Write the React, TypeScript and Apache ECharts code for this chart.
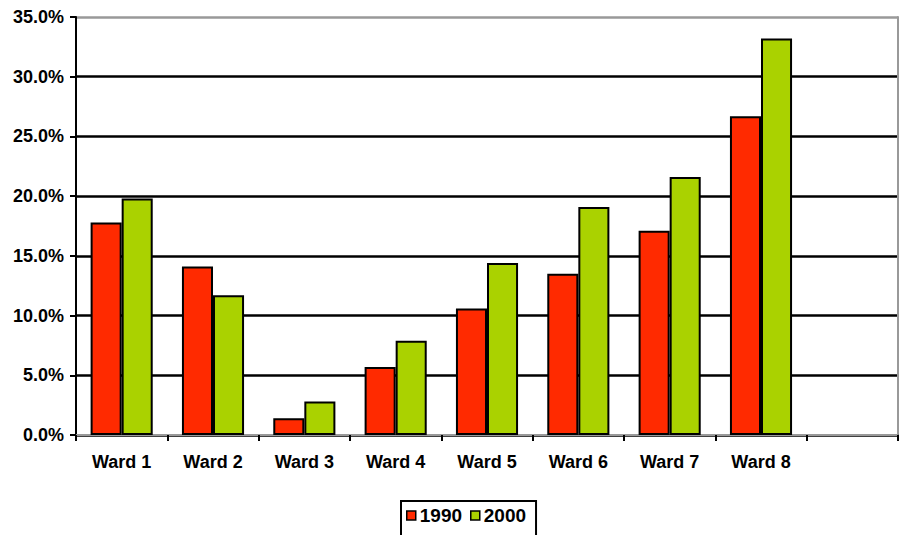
import React, { useEffect, useRef } from "react";
import * as echarts from "echarts";

const categories = ["Ward 1", "Ward 2", "Ward 3", "Ward 4", "Ward 5", "Ward 6", "Ward 7", "Ward 8", ""];
const values1990 = [17.8, 14.1, 1.4, 5.7, 10.6, 13.5, 17.1, 26.7];
const values2000 = [19.8, 11.7, 2.8, 7.9, 14.4, 19.1, 21.6, 33.2];
const seriesNames = ["1990", "2000"];

const FONT = "'Liberation Sans', Arial, sans-serif";

export default function App() {
  const ref = useRef<HTMLDivElement>(null);
  useEffect(() => {
    if (!ref.current) return;
    const chart = echarts.init(ref.current, null, { renderer: "svg" });
    chart.setOption({
      animation: false,
      backgroundColor: "#fff",
      textStyle: { fontFamily: FONT },
      grid: { left: 76, right: 1, top: 17, bottom: 100, containLabel: false },
      legend: {
        left: 401,
        top: 501,
        data: seriesNames,
        icon: "rect",
        itemWidth: 9,
        itemHeight: 9,
        itemGap: 8,
        padding: [5, 10, 14, 5],
        borderColor: "#000",
        borderWidth: 2,
        textStyle: { fontFamily: FONT, fontSize: 19, fontWeight: "bold", color: "#000", padding: [0, 0, 0, -1] },
        itemStyle: { borderColor: "#000", borderWidth: 1.5 },
      },
      xAxis: [
        {
          type: "category",
          data: categories,
          boundaryGap: true,
          axisLine: { lineStyle: { color: "#000", width: 2 } },
          axisTick: { show: true, length: 6, inside: false, alignWithLabel: false, lineStyle: { color: "#000", width: 2 } },
          axisLabel: { fontFamily: FONT, fontSize: 18, fontWeight: "bold", color: "#000", margin: 18, interval: 0 },
          splitLine: { show: false },
        },
        {
          type: "category",
          data: categories,
          position: "top",
          axisLine: { show: true, lineStyle: { color: "#999", width: 2 } },
          axisTick: { show: false },
          axisLabel: { show: false },
        },
      ],
      yAxis: [
        {
          type: "value",
          min: 0,
          max: 35,
          interval: 5,
          axisLine: { show: true, lineStyle: { color: "#000", width: 2 } },
          axisTick: { show: true, length: 6, lineStyle: { color: "#000", width: 2 } },
          axisLabel: {
            fontFamily: FONT,
            fontSize: 18,
            fontWeight: "bold",
            color: "#000",
            margin: 12,
            formatter: (v: number) => v.toFixed(1) + "%",
          },
          splitLine: {
            show: true,
            lineStyle: { color: ["#000", "#000", "#000", "#000", "#000", "#000", "#000", "#999"], width: 2.5 },
          },
        },
        {
          type: "value",
          min: 0,
          max: 35,
          interval: 5,
          position: "right",
          axisLine: { show: true, lineStyle: { color: "#999", width: 2 } },
          axisTick: { show: false },
          axisLabel: { show: false },
          splitLine: { show: false },
        },
      ],
      series: [
        {
          name: seriesNames[0],
          type: "bar",
          data: values1990,
          barGap: "0%",
          barCategoryGap: "32%",
          itemStyle: { color: "#FF2A00", borderColor: "#000", borderWidth: 2 },
        },
        {
          name: seriesNames[1],
          type: "bar",
          data: values2000,
          barGap: "0%",
          barCategoryGap: "32%",
          itemStyle: { color: "#AAD200", borderColor: "#000", borderWidth: 2 },
        },
      ],
    });
    return () => chart.dispose();
  }, []);
  return (
    <div
      ref={ref}
      style={{ position: "fixed", left: 0, top: 0, width: 899, height: 535, overflow: "hidden" }}
    />
  );
}
